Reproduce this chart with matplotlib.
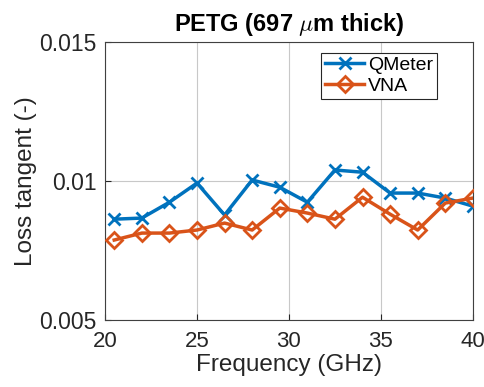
import matplotlib
matplotlib.use("Agg")
from matplotlib import pyplot as plt

plt.rcParams['font.family'] = ['Liberation Sans', 'DejaVu Sans']
plt.rcParams['mathtext.fontset'] = 'cm'

freq = [20.5, 22, 23.5, 25, 26.5, 28, 29.5, 31, 32.5, 34, 35.5, 37, 38.5, 40]
qmeter = [0.00863, 0.00867, 0.00924, 0.00993, 0.00878, 0.01004, 0.00978,
          0.00924, 0.01040, 0.01032, 0.00957, 0.00957, 0.00939, 0.00910]
vna = [0.00788, 0.00813, 0.00813, 0.00824, 0.00849, 0.00824, 0.00903,
       0.00885, 0.00863, 0.00942, 0.00881, 0.00824, 0.00921, 0.00939]

xticks = [20, 25, 30, 35, 40]
yticks = [0.005, 0.01, 0.015]
ytick_labels = ["0.005", "0.01", "0.015"]

fig = plt.figure(figsize=(4.84, 3.87), dpi=100)
ax = fig.add_axes([0.217, 0.173, 0.760, 0.718])

ax.plot(freq, qmeter, color='#0072BD', lw=2.5, marker='x', ms=9, mew=2,
        label='QMeter', zorder=3)
ax.plot(freq, vna, color='#D95319', lw=2.5, marker='D', ms=8.5, mew=2,
        mfc='none', label='VNA', zorder=3)

ax.set_xlim(20, 40)
ax.set_ylim(0.005, 0.015)
ax.set_xticks(xticks)
ax.set_yticks(yticks)
ax.set_yticklabels(ytick_labels)
ax.tick_params(direction='in', labelsize=16.5, colors='#262626', length=4)
ax.tick_params(axis='x', pad=8, labelsize=16)
ax.tick_params(axis='y', pad=6)
ax.grid(True, color='#c8c8c8', lw=0.8)
ax.set_axisbelow(True)
for s in ax.spines.values():
    s.set_color('#404040')
    s.set_linewidth(0.8)

ax.set_xlabel('Frequency (GHz)', fontsize=17.5, color='#262626', labelpad=1)
ax.set_ylabel('Loss tangent (-)', fontsize=17.5, color='#262626', labelpad=2)
ax.set_title(r'PETG (697 $\mu$m thick)', fontsize=17, fontweight='bold', pad=8)

leg = ax.legend(loc='upper right', bbox_to_anchor=(0.918, 0.983), fontsize=14,
                fancybox=False, framealpha=1, edgecolor='#262626',
                handlelength=2.0, borderpad=0.2, labelspacing=0.15,
                handletextpad=0.2, borderaxespad=0.3)
leg.get_frame().set_linewidth(0.8)

fig.savefig("out.png", dpi=100)
